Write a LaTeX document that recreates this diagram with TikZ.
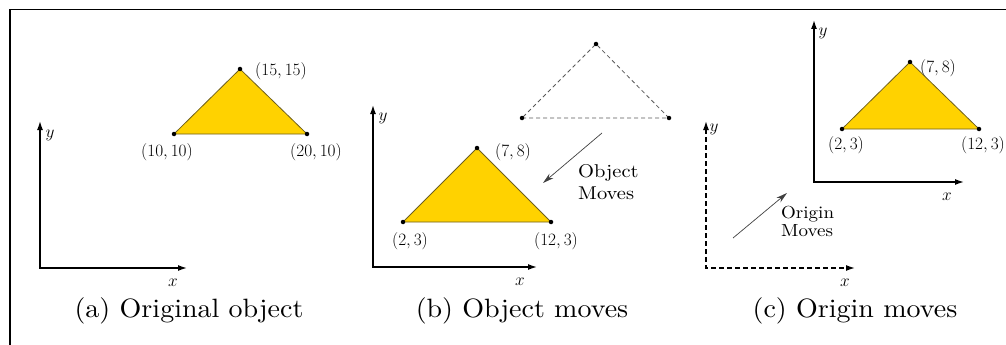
\documentclass[tikz,border=0pt]{standalone}
\usetikzlibrary{arrows.meta}
\definecolor{gold}{RGB}{255,210,0}
\definecolor{triedge}{RGB}{110,95,30}
\newcommand{\stretchcap}[1]{\scalebox{2.8}[2.65]{\fontsize{10}{12}\selectfont #1}}
\newcommand{\stretchnote}[3]{\scalebox{#1}[#2]{\fontsize{10}{12}\selectfont\begin{tabular}{@{}l@{}}#3\end{tabular}}}
\begin{document}
\begin{tikzpicture}[x=1pt,y=-1pt,
  axes/.style={line width=1.4pt, {Latex[length=9pt,width=6pt]}-{Latex[length=9pt,width=6pt]}},
  daxes/.style={axes, dash pattern=on 5pt off 3pt},
  tri/.style={fill=gold, draw=triedge, line width=0.8pt, line join=round},
  ghost/.style={draw=black!65, line width=0.8pt, dash pattern=on 4pt off 3pt},
  dot/.style={circle, fill=black, inner sep=0pt, minimum size=4.5pt},
  lbl/.style={font=\fontsize{19}{21}\selectfont, inner sep=1pt},
  captext/.style={inner sep=0pt, anchor=base},
  mv/.style={line width=0.7pt, draw=black!75, -{Stealth[length=11pt,width=6pt]}},
  note/.style={inner sep=0pt, anchor=west}]
\useasboundingbox (0,0) rectangle (1006,345);
% frame
\draw[line width=1.6pt] (10,345) -- (10,9.5) -- (1006,9.5);

% ---------- (a) ----------
\coordinate (aO) at (40,268);
\coordinate (aY) at (40,121);
\coordinate (aX) at (187,268);
\draw[axes] (aY) -- (aO) -- (aX);
\node[lbl] (ay) at (50,135) {$y$};
\node[lbl] (ax) at (173,283) {$x$};
\coordinate (a1) at (174,134);
\coordinate (a2) at (307,134);
\coordinate (a3) at (240,69);
\draw[tri] (a1) -- (a2) -- (a3) -- cycle;
\foreach \p in {a1,a2,a3} \node[dot] at (\p) {};
\node[lbl] (la1) at (167,152) {$(10,10)$};
\node[lbl] (la2) at (316,152) {$(20,10)$};
\node[lbl] (la3) at (281,71) {$(15,15)$};
\node[captext] (capa) at (189,317) {\stretchcap{(a) Original object}};

% ---------- (b) ----------
\coordinate (bO) at (373,267);
\coordinate (bY) at (373,105);
\coordinate (bX) at (537,267);
\draw[axes] (bY) -- (bO) -- (bX);
\node[lbl] (by) at (383,118) {$y$};
\node[lbl] (bx) at (520,282) {$x$};
\coordinate (d1) at (522,118);
\coordinate (d2) at (669,118);
\coordinate (d3) at (596,44);
\draw[ghost] (d1) -- (d2) -- (d3) -- cycle;
\foreach \p in {d1,d2,d3} \node[dot] at (\p) {};
\coordinate (b1) at (403,222);
\coordinate (b2) at (551,222);
\coordinate (b3) at (477,148);
\draw[tri] (b1) -- (b2) -- (b3) -- cycle;
\foreach \p in {b1,b2,b3} \node[dot] at (\p) {};
\node[lbl] (lb1) at (410,241) {$(2,3)$};
\node[lbl] (lb2) at (556,241) {$(12,3)$};
\node[lbl] (lb3) at (513,152) {$(7,8)$};
\coordinate (bm1) at (602,133);
\coordinate (bm2) at (543,183);
\draw[mv] (bm1) -- (bm2);
\node[note] (bn) at (578,184) {\stretchnote{2.05}{1.85}{Object\\Moves}};
\node[captext] (capb) at (522,317) {\stretchcap{(b) Object moves}};

% ---------- (c) ----------
\coordinate (cO) at (706,268);
\coordinate (cY) at (706,121);
\coordinate (cX) at (855,268);
\draw[daxes] (cY) -- (cO) -- (cX);
\node[lbl] (cy) at (714,129) {$y$};
\node[lbl] (cx) at (845,283) {$x$};
\coordinate (sO) at (814,182);
\coordinate (sY) at (814,20);
\coordinate (sX) at (964,182);
\draw[axes] (sY) -- (sO) -- (sX);
\node[lbl] (sy) at (823,33) {$y$};
\node[lbl] (sx) at (947,197) {$x$};
\coordinate (c1) at (842,129);
\coordinate (c2) at (979,129);
\coordinate (c3) at (910,62);
\draw[tri] (c1) -- (c2) -- (c3) -- cycle;
\foreach \p in {c1,c2,c3} \node[dot] at (\p) {};
\node[lbl] (lc1) at (846,145) {$(2,3)$};
\node[lbl] (lc2) at (983,145) {$(12,3)$};
\node[lbl] (lc3) at (938,68) {$(7,8)$};
\coordinate (cm1) at (733,238);
\coordinate (cm2) at (787,193);
\draw[mv] (cm1) -- (cm2);
\node[note] (cn) at (781,224) {\renewcommand\arraystretch{0.86}\stretchnote{1.9}{1.75}{Origin\\Moves}};
\node[captext] (capc) at (855,317) {\stretchcap{(c) Origin moves}};
\end{tikzpicture}
\end{document}
